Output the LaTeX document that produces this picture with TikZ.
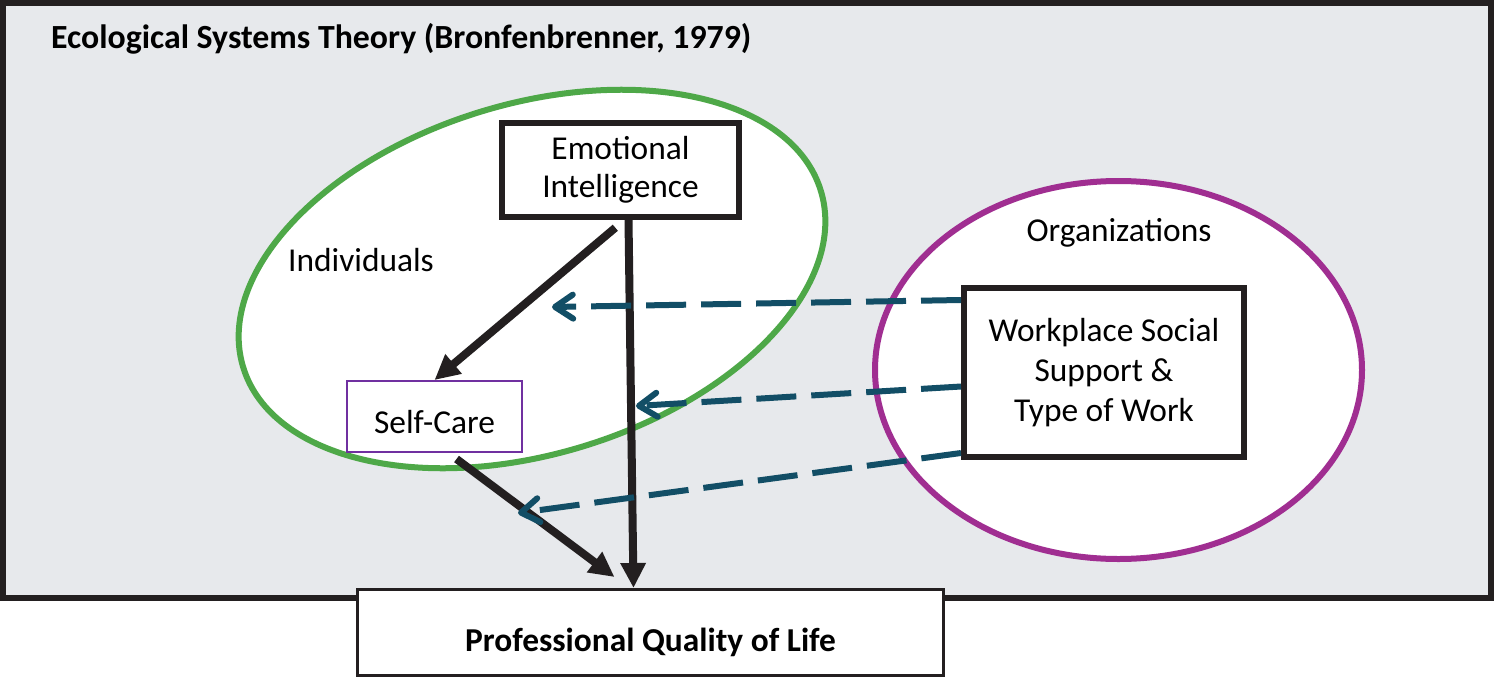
\documentclass[tikz,border=0pt]{standalone}
\usepackage{fontspec}
\setmainfont{Carlito}
\usetikzlibrary{arrows.meta}
\definecolor{framegray}{RGB}{231,233,236}
\definecolor{indgreen}{RGB}{78,168,72}
\definecolor{orgpurple}{RGB}{160,46,145}
\definecolor{carepurple}{RGB}{112,48,160}
\definecolor{linkblue}{RGB}{18,78,102}
\definecolor{inkblack}{RGB}{35,31,32}
\tikzstyle{flowarrow} = [line width=4pt,inkblack,-{Triangle[length=12.5pt,width=12pt]}]
\tikzstyle{linkarrow} = [line width=3pt,linkblue,dash pattern=on 20pt off 7.5pt,-{Straight Barb[length=9pt,width=12pt,round]}]
\tikzstyle{box} = [draw=inkblack,fill=white,align=center,inner sep=0pt]

\begin{document}
\begin{tikzpicture}[x=0.5pt,y=0.5pt,font=\fontsize{16.7}{20}\selectfont]
\useasboundingbox (0,0) rectangle (1494,677);
\draw[line width=3pt,draw=inkblack,fill=framegray] (3,79) rectangle (1491,674);
\node[anchor=base west,font=\fontsize{16.9}{20}\selectfont\bfseries] (title) at (44,629) {Ecological Systems Theory (Bronfenbrenner, 1979)};
% the two levels
\draw[indgreen,line width=3pt,fill=white,rotate around={17:(532,398)}] (532,398) ellipse [x radius=151pt,y radius=87.5pt];
\draw[orgpurple,line width=3pt,fill=white] (1118.5,307) ellipse [x radius=121.75pt,y radius=94.5pt];
\node (ind) at (361,417) {Individuals};
\node (org) at (1119,444) {Organizations};
% boxes
\node[box,line width=3pt,minimum width=118.5pt,minimum height=47pt] (EI) at (620.5,507) {Emotional\\[-1pt]Intelligence};
\node[box,draw=carepurple,line width=1pt,minimum width=87.5pt,minimum height=35.5pt,text height=16.8pt,text depth=0pt] (SC) at (434.5,260.5) {Self-Care};
\node[box,line width=3pt,minimum width=140pt,minimum height=84.5pt] (WSS) at (1104,304.5) {Workplace Social\\Support \&\\Type of Work};
\node[box,line width=1.5pt,minimum width=293pt,minimum height=43pt,text height=18.8pt,text depth=0pt,font=\fontsize{16.7}{20}\selectfont\bfseries] (PQL) at (650.5,44.5) {Professional Quality of Life};
% arrows
\coordinate (toind) at (552,370);
\coordinate (toEIline) at (636,271);
\coordinate (toSCline) at (518,164);
\draw[flowarrow] ([xshift=4pt]EI.south) -- ([xshift=-8.5pt]PQL.north);
\draw[flowarrow,shorten <=6pt] ([xshift=2pt]EI.south) -- (SC.north);
\draw[flowarrow,shorten <=5pt] ([xshift=7pt]SC.south) -- ([xshift=-18pt,yshift=5.5pt]PQL.north);
\draw[linkarrow] ([yshift=36.25pt]WSS.west) -- (toind);
\draw[linkarrow] ([yshift=-7pt]WSS.west) -- (toEIline);
\draw[linkarrow] ([yshift=-40.25pt]WSS.west) -- (toSCline);
\end{tikzpicture}
\end{document}
